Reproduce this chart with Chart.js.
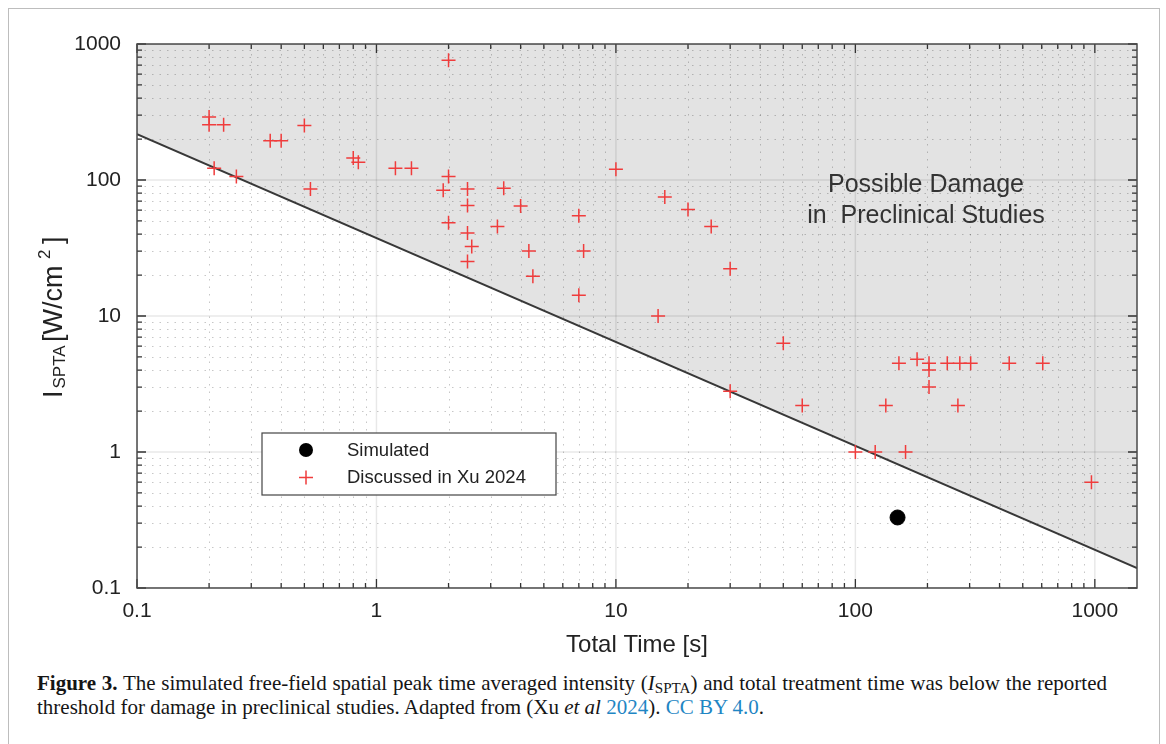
<!DOCTYPE html>
<html>
<head>
<meta charset="utf-8">
<title>ISPTA vs Total Time</title>
<script src="https://cdn.jsdelivr.net/npm/chart.js@4.4.1/dist/chart.umd.min.js"></script>
<style>
  body { margin: 0; background: #fff; }
  #frame { position: absolute; left: 8px; top: 8px; width: 1150px; height: 800px; border: 1.5px solid #bdbdbd; }
  #wrap { position: absolute; left: 0; top: 0; width: 1166px; height: 660px; }
  .cap { position: absolute; left: 37px; font-family: "Liberation Serif", "Times New Roman", serif; font-size: 21px; line-height: 24px; color: #151515; }
  #cap1 { top: 671px; width: 1070px; text-align: justify; text-align-last: justify; }
  #cap2 { top: 695px; white-space: nowrap; }
  .cap sub { font-size: 0.72em; vertical-align: -0.22em; line-height: 0; }
  .cap .lnk { color: #1f86c4; }
</style>
</head>
<body>
<div id="frame"></div>
<div id="wrap"><canvas id="chart" width="1166" height="660"></canvas></div>
<div class="cap" id="cap1"><b>Figure 3.</b> The simulated free-field spatial peak time averaged intensity (<i>I</i><sub>SPTA</sub>) and total treatment time was below the reported</div>
<div class="cap" id="cap2">threshold for damage in preclinical studies. Adapted from (Xu <i>et al</i> <span class="lnk">2024</span>). <span class="lnk">CC BY 4.0</span>.</div>
<script>
// Studies discussed in Xu 2024: total time [s] and ISPTA [W/cm^2]
const xuTime = [0.2, 0.2, 0.23, 0.21, 0.26, 0.36, 0.40, 0.5, 0.53, 0.8, 0.84, 1.2, 1.4,
  2.0, 2.0, 1.9, 2.4, 3.4, 2.4, 4.0, 7.0, 2.0, 3.2, 2.4, 2.5, 4.33, 7.33, 2.4, 4.5, 7.0,
  10, 16, 20, 25, 30, 15, 30, 50, 60, 134, 268, 152, 181, 203, 203, 203, 242, 273, 303,
  439, 606, 100, 121, 162, 968];
const xuIspta = [290, 255, 255, 122, 106, 194, 194, 252, 86, 145, 135, 122, 122,
  760, 106, 84, 86, 87, 65, 64.5, 54.5, 48.4, 45.5, 40.7, 32.5, 30, 30, 25.2, 19.6, 14.2,
  120, 75, 60.7, 45.5, 22.3, 10, 2.8, 6.3, 2.2, 2.2, 2.2, 4.5, 4.8, 4.5, 4.0, 3.0, 4.5, 4.5, 4.5,
  4.5, 4.5, 1.0, 1.0, 1.0, 0.6];

// simulated exposure
const simTime = [150];
const simIspta = [0.33];

// damage threshold line (end points)
const limitTime = [0.1, 1500];
const limitIspta = [217, 0.14];

// axis ranges and labelled decades
const timeRange = [0.1, 1500];
const isptaRange = [0.1, 1000];
const timeDecades = [0.1, 1, 10, 100, 1000];
const isptaDecades = [0.1, 1, 10, 100, 1000];

const sans = '"Liberation Sans", Arial, Helvetica, sans-serif';
const toPts = (xs, ys) => xs.map((v, i) => ({ x: v, y: ys[i] }));

function decadeLabel(v) {
  const e = Math.log10(v);
  if (Math.abs(e - Math.round(e)) > 1e-9) return '';
  return String(Number(v.toPrecision(1)));
}

// grid, box, ticks, legend and text drawn over the plot area
const frame = {
  id: 'frame',
  beforeDatasetsDraw(chart) {
    const { ctx, chartArea: a, scales: { x, y } } = chart;
    ctx.save();
    ctx.beginPath();
    ctx.rect(a.left, a.top, a.right - a.left, a.bottom - a.top);
    ctx.clip();
    // minor dotted grid
    ctx.strokeStyle = 'rgba(0,0,0,0.22)';
    ctx.lineWidth = 1;
    ctx.setLineDash([1.5, 6]);
    timeDecades.forEach(d => {
      for (let k = 2; k <= 9; k++) {
        const v = d * k;
        if (v > timeRange[1]) break;
        const px = Math.round(x.getPixelForValue(v)) + 0.5;
        ctx.beginPath(); ctx.moveTo(px, a.bottom); ctx.lineTo(px, a.top); ctx.stroke();
      }
    });
    isptaDecades.forEach(d => {
      for (let k = 2; k <= 9; k++) {
        const v = d * k;
        if (v > isptaRange[1]) break;
        const py = Math.round(y.getPixelForValue(v)) + 0.5;
        ctx.beginPath(); ctx.moveTo(a.left, py); ctx.lineTo(a.right, py); ctx.stroke();
      }
    });
    // major solid grid
    ctx.setLineDash([]);
    ctx.strokeStyle = 'rgba(0,0,0,0.09)';
    ctx.lineWidth = 1.5;
    timeDecades.forEach(d => {
      const px = x.getPixelForValue(d);
      ctx.beginPath(); ctx.moveTo(px, a.bottom); ctx.lineTo(px, a.top); ctx.stroke();
    });
    isptaDecades.forEach(d => {
      const py = y.getPixelForValue(d);
      ctx.beginPath(); ctx.moveTo(a.left, py); ctx.lineTo(a.right, py); ctx.stroke();
    });
    ctx.restore();
  },
  afterDatasetsDraw(chart) {
    const { ctx, chartArea: a, scales: { x, y } } = chart;
    ctx.save();
    // tick marks on all four sides, pointing inwards
    ctx.strokeStyle = '#333';
    ctx.lineWidth = 1.3;
    timeDecades.forEach(d => {
      for (let k = 1; k <= 9; k++) {
        const v = d * k;
        if (v > timeRange[1]) break;
        const px = x.getPixelForValue(v);
        const len = k === 1 ? 9 : 5;
        ctx.beginPath();
        ctx.moveTo(px, a.bottom); ctx.lineTo(px, a.bottom - len);
        ctx.moveTo(px, a.top); ctx.lineTo(px, a.top + len);
        ctx.stroke();
      }
    });
    isptaDecades.forEach(d => {
      for (let k = 1; k <= 9; k++) {
        const v = d * k;
        if (v > isptaRange[1]) break;
        const py = y.getPixelForValue(v);
        const len = k === 1 ? 9 : 5;
        ctx.beginPath();
        ctx.moveTo(a.left, py); ctx.lineTo(a.left + len, py);
        ctx.moveTo(a.right, py); ctx.lineTo(a.right - len, py);
        ctx.stroke();
      }
    });
    // axes box
    ctx.strokeStyle = '#4a4a4a';
    ctx.lineWidth = 1.5;
    ctx.strokeRect(a.left, a.top, a.right - a.left, a.bottom - a.top);

    // region label
    ctx.fillStyle = '#333';
    ctx.font = '25px ' + sans;
    ctx.textAlign = 'center';
    ctx.textBaseline = 'alphabetic';
    ctx.fillText('Possible Damage', 926, 192);
    ctx.fillText('in  Preclinical Studies', 926, 223);

    // legend
    ctx.fillStyle = '#fff';
    ctx.fillRect(262, 433, 294, 62);
    ctx.strokeStyle = '#444';
    ctx.lineWidth = 1.2;
    ctx.strokeRect(262, 433, 294, 62);
    ctx.fillStyle = '#000';
    ctx.beginPath(); ctx.arc(306, 450, 7, 0, Math.PI * 2); ctx.fill();
    ctx.strokeStyle = '#f03c3c';
    ctx.lineWidth = 1.5;
    ctx.beginPath();
    ctx.moveTo(299, 477.5); ctx.lineTo(313, 477.5);
    ctx.moveTo(306, 470.5); ctx.lineTo(306, 484.5);
    ctx.stroke();
    ctx.fillStyle = '#222';
    ctx.font = '18.5px ' + sans;
    ctx.textAlign = 'left';
    ctx.textBaseline = 'middle';
    ctx.fillText('Simulated', 347, 451);
    ctx.fillText('Discussed in Xu 2024', 347, 478);

    // axis titles
    ctx.fillStyle = '#222';
    ctx.font = '24px ' + sans;
    ctx.textAlign = 'center';
    ctx.textBaseline = 'alphabetic';
    ctx.fillText('Total Time [s]', (a.left + a.right) / 2, 652);

    ctx.translate(62, 398);
    ctx.rotate(-Math.PI / 2);
    ctx.textAlign = 'left';
    const big = '27px ' + sans, small = '17px ' + sans;
    [['I', big, 0, 0], ['SPTA', small, 9.5, 3], ['[W/cm', big, 56, 0], ['2', small, 139, -12], [']', big, 154, 0]]
      .forEach(([t, f, dx, dy]) => { ctx.font = f; ctx.fillText(t, dx, dy); });
    ctx.restore();
  }
};

new Chart(document.getElementById('chart'), {
  type: 'scatter',
  data: {
    datasets: [
      {
        label: 'Simulated',
        data: toPts(simTime, simIspta),
        pointStyle: 'circle',
        pointRadius: 7.5,
        backgroundColor: '#000',
        borderColor: '#000',
        order: 0
      },
      {
        label: 'Discussed in Xu 2024',
        data: toPts(xuTime, xuIspta),
        pointStyle: 'cross',
        pointRadius: 7,
        borderWidth: 1.5,
        borderColor: '#f03c3c',
        order: 1
      },
      {
        type: 'line',
        label: 'threshold',
        data: toPts(limitTime, limitIspta),
        showLine: true,
        borderColor: '#383838',
        borderWidth: 2,
        pointRadius: 0,
        fill: 'end',
        backgroundColor: '#e3e3e3',
        order: 2
      }
    ]
  },
  options: {
    responsive: false,
    animation: false,
    events: [],
    layout: { padding: { left: 0, top: 44, right: 29, bottom: 0 } },
    plugins: {
      legend: { display: false },
      tooltip: { enabled: false },
      filler: { drawTime: 'beforeDraw' }
    },
    scales: {
      x: {
        type: 'logarithmic',
        min: timeRange[0],
        max: timeRange[1],
        grid: { display: false, drawTicks: false },
        border: { display: false },
        ticks: {
          autoSkip: false, maxRotation: 0, padding: 11, color: '#222',
          font: { family: sans, size: 21 },
          callback: decadeLabel
        },
        afterFit(s) { s.height = 72; }
      },
      y: {
        type: 'logarithmic',
        min: isptaRange[0],
        max: isptaRange[1],
        grid: { display: false, drawTicks: false },
        border: { display: false },
        ticks: {
          autoSkip: false, padding: 16, color: '#222',
          font: { family: sans, size: 21 },
          callback: decadeLabel
        },
        afterFit(s) { s.width = 137; }
      }
    }
  },
  plugins: [frame]
});
</script>
</body>
</html>
